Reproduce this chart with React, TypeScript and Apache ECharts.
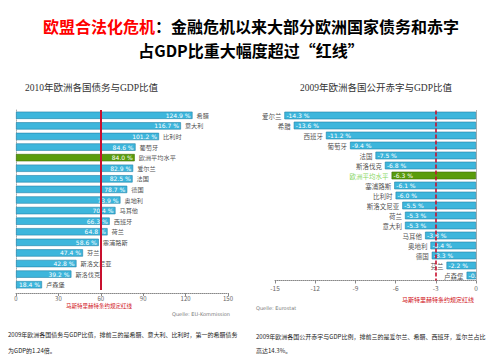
import React, { useEffect, useRef } from "react";
import * as echarts from "echarts";

const debtCategories = ["希腊", "意大利", "比利时", "葡萄牙", "欧洲平均水平", "爱尔兰", "法国", "德国", "奥地利", "马耳他", "西班牙", "荷兰", "塞浦路斯", "芬兰", "斯洛文尼亚", "斯洛伐克", "卢森堡"];
const debtValues = [124.9, 116.7, 101.2, 84.6, 84.0, 82.9, 82.5, 78.7, 73.9, 70.4, 66.3, 64.8, 58.6, 47.4, 42.8, 39.2, 18.4];
const debtLimit = 60;
const debtTicks = { min: 0, max: 150, interval: 30 };

const deficitCategories = ["爱尔兰", "希腊", "西班牙", "葡萄牙", "法国", "斯洛伐克", "欧洲平均水平", "塞浦路斯", "比利时", "斯洛文尼亚", "荷兰", "意大利", "马耳他", "奥地利", "德国", "芬兰", "卢森堡"];
const deficitValues = [-14.3, -13.6, -11.2, -9.4, -7.5, -6.8, -6.3, -6.1, -6.0, -5.5, -5.3, -5.3, -3.8, -3.4, -3.3, -2.2, -0.7];
const deficitLimit = -3;
const deficitTicks = { min: -15, max: 0, interval: 3 };

const AVG = "欧洲平均水平";
const BLUE = "#3db6dc";
const GREEN = "#5a9c0c";
const RED = "#c8102e";
const CJK = "'Noto Sans CJK SC', sans-serif";

export default function App() {
  const ref = useRef<HTMLDivElement>(null);
  useEffect(() => {
    if (!ref.current) return;
    const chart = echarts.init(ref.current, undefined, { renderer: "svg" });
    const barItem = (cats: string[], vals: number[]) =>
      vals.map((v, i) => ({
        value: v,
        itemStyle: {
          color: cats[i] === AVG ? GREEN : BLUE,
          borderColor: cats[i] === AVG ? "#3d6e05" : "#2283a8",
          borderWidth: 0.6,
        },
      }));
    const pct = (p: any) => Number(p.value).toFixed(1) + " %";
    const option: any = {
      animation: false,
      backgroundColor: "#ffffff",
      textStyle: { fontFamily: CJK },
      grid: [
        { left: 16, top: 110, width: 212, height: 180, containLabel: false },
        { left: 275, top: 110.5, width: 201, height: 170, containLabel: false },
      ],
      xAxis: [
        {
          gridIndex: 0, type: "value", ...debtTicks, offset: 3,
          axisLine: { show: true, lineStyle: { color: "#888", type: "dotted" } },
          axisTick: { show: true, length: 3, lineStyle: { color: "#888" } },
          axisLabel: { fontSize: 6, color: "#666", margin: 2 },
          splitLine: { show: false },
        },
        {
          gridIndex: 1, type: "value", ...deficitTicks,
          axisLine: { show: true, onZero: false, lineStyle: { color: "#888", type: "dotted" } },
          axisTick: { show: true, length: 3, lineStyle: { color: "#888" } },
          axisLabel: { fontSize: 6.5, color: "#666", margin: 4 },
          splitLine: { show: false },
        },
      ],
      yAxis: [
        {
          gridIndex: 0, type: "category", data: debtCategories, inverse: true,
          axisLine: { show: true, lineStyle: { color: "#aaa", type: "dotted" } },
          axisTick: { show: false }, axisLabel: { show: false },
        },
        {
          gridIndex: 1, type: "category", data: deficitCategories, inverse: true, position: "right",
          axisLine: { show: true, onZero: false, lineStyle: { color: "#aaa", type: "dotted" } },
          axisTick: { show: false }, axisLabel: { show: false },
        },
      ],
      series: [
        {
          type: "bar", xAxisIndex: 0, yAxisIndex: 0, barWidth: 7.3,
          data: barItem(debtCategories, debtValues),
          label: {
            show: true, position: "insideRight", formatter: pct,
            color: "#fff", fontSize: 6, fontFamily: "DejaVu Sans", distance: 2,
          },
          markLine: {
            symbol: "none", silent: true,
            label: { show: false },
            lineStyle: { color: RED, width: 2, type: "solid" },
            data: [{ xAxis: debtLimit }],
          },
        },
        {
          type: "scatter", xAxisIndex: 0, yAxisIndex: 0, symbolSize: 0,
          data: debtValues.map((v, i) => [v, debtCategories[i]]),
          label: {
            show: true, position: "right", distance: 4,
            formatter: (p: any) => p.value[1],
            color: "#222", fontSize: 6.2, fontFamily: CJK,
          },
        },
        {
          type: "bar", xAxisIndex: 1, yAxisIndex: 1, barWidth: 7.6,
          data: barItem(deficitCategories, deficitValues),
          label: {
            show: true, position: "insideLeft", formatter: pct,
            color: "#fff", fontSize: 6, fontFamily: "DejaVu Sans", distance: 2,
          },
          markLine: {
            symbol: "none", silent: true,
            label: { show: false },
            lineStyle: { color: RED, width: 1.6, type: [4, 2] },
            data: [{ xAxis: deficitLimit }],
          },
        },
        {
          type: "scatter", xAxisIndex: 1, yAxisIndex: 1, symbolSize: 0,
          data: deficitValues.map((v, i) => ({
            value: [v, deficitCategories[i]],
            label: deficitCategories[i] === AVG ? { color: "#66cc33" } : undefined,
          })),
          label: {
            show: true, position: "left", distance: 3,
            formatter: (p: any) => p.value[1],
            fontSize: 6.5, fontFamily: CJK,
            color: "#222",
          },
        },
      ],
      graphic: [
        {
          type: "text", x: 251, y: 26.3,
          style: {
            text: "{r|欧盟合法化危机}{b|：金融危机以来大部分欧洲国家债务和赤字}",
            align: "center", verticalAlign: "middle",
            rich: {
              r: { fill: "#ff0000", fontSize: 16, lineHeight: 16, fontWeight: "bold", fontFamily: CJK },
              b: { fill: "#000", fontSize: 16, lineHeight: 16, fontWeight: "bold", fontFamily: CJK },
            },
          },
        },
        {
          type: "text", x: 251, y: 49.8,
          style: {
            text: "占GDP比重大幅度超过“红线”", align: "center", verticalAlign: "middle",
            fill: "#000", fontSize: 16, lineHeight: 16, fontWeight: "bold", fontFamily: CJK,
          },
        },
        {
          type: "text", x: 25, y: 88,
          style: { text: "2010年欧洲各国债务与GDP比值", verticalAlign: "middle", fill: "#333", fontSize: 9.5, fontFamily: "'Liberation Serif', " + CJK },
        },
        {
          type: "text", x: 300, y: 88,
          style: { text: "2009年欧洲各国公开赤字与GDP比值", verticalAlign: "middle", fill: "#333", fontSize: 9.5, fontFamily: "'Liberation Serif', " + CJK },
        },
        {
          type: "text", x: 66, y: 306,
          style: { text: "马斯特里赫特条约规定红线", verticalAlign: "middle", fill: "#d01020", fontSize: 5.5, fontFamily: CJK },
        },
        {
          type: "text", x: 230, y: 314,
          style: { text: "Quelle: EU-Kommission", align: "right", verticalAlign: "middle", fill: "#777", fontSize: 5, fontFamily: "DejaVu Sans" },
        },
        {
          type: "text", x: 402, y: 299,
          style: { text: "马斯特里赫特条约规定红线", verticalAlign: "middle", fill: "#d01020", fontSize: 6, fontFamily: CJK },
        },
        {
          type: "text", x: 256, y: 308,
          style: { text: "Quelle: Eurostat", verticalAlign: "middle", fill: "#777", fontSize: 5, fontFamily: "DejaVu Sans" },
        },
        {
          type: "text", x: 8, y: 334,
          style: { text: "2009年欧洲各国债务与GDP比值，排前三的是希腊、意大利、比利时，第一的希腊债务", verticalAlign: "middle", fill: "#222", fontSize: 6, fontFamily: CJK },
        },
        {
          type: "text", x: 8, y: 350,
          style: { text: "为GDP的1.24倍。", verticalAlign: "middle", fill: "#222", fontSize: 6, fontFamily: CJK },
        },
        {
          type: "text", x: 256, y: 336,
          style: { text: "2009年欧洲各国公开赤字与GDP比例，排前三的是爱尔兰、希腊、西班牙，爱尔兰占比", verticalAlign: "middle", fill: "#222", fontSize: 6, fontFamily: CJK },
        },
        {
          type: "text", x: 256, y: 350,
          style: { text: "高达14.3%。", verticalAlign: "middle", fill: "#222", fontSize: 6, fontFamily: CJK },
        },
      ],
    };
    chart.setOption(option);
    return () => chart.dispose();
  }, []);
  return <div ref={ref} style={{ position: "fixed", left: 0, top: 0, width: 501, height: 361 }} />;
}
